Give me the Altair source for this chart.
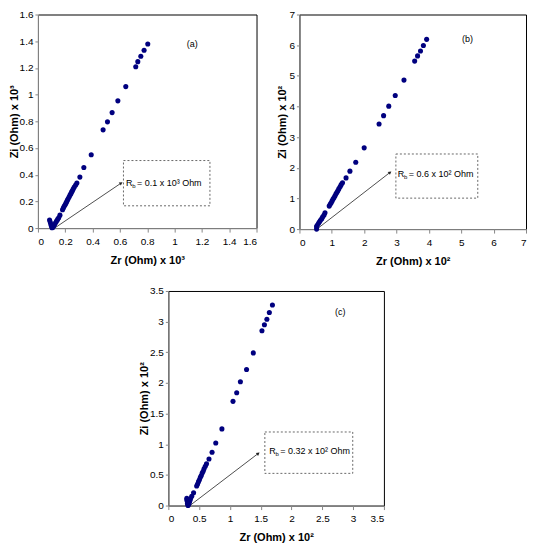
import altair as alt
import pandas as pd

NAVY = "#00007f"
FONT = "Liberation Sans"

# ---------------- data ----------------
a_zr = [0.085, 0.090, 0.094, 0.098, 0.103, 0.108, 0.114, 0.121, 0.129, 0.136, 0.144, 0.152, 0.161,
        0.180, 0.186, 0.192, 0.199, 0.205, 0.211, 0.216, 0.222, 0.229, 0.235, 0.241, 0.247, 0.253,
        0.259, 0.266, 0.276, 0.285, 0.307, 0.336, 0.390, 0.477, 0.509, 0.543, 0.585, 0.643, 0.716,
        0.731, 0.753, 0.777, 0.804]
a_zi = [0.060, 0.046, 0.031, 0.016, 0.003, 0.004, 0.013, 0.025, 0.040, 0.052, 0.065, 0.078, 0.097,
        0.138, 0.151, 0.163, 0.175, 0.187, 0.199, 0.211, 0.222, 0.235, 0.247, 0.258, 0.271, 0.282,
        0.294, 0.307, 0.322, 0.337, 0.382, 0.454, 0.549, 0.736, 0.796, 0.865, 0.953, 1.060, 1.209,
        1.247, 1.287, 1.332, 1.379]

b_zr = [0.53, 0.53, 0.55, 0.59, 0.62, 0.65, 0.69, 0.72, 0.76, 0.79, 0.92, 0.95, 0.98, 1.01, 1.04,
        1.07, 1.10, 1.13, 1.16, 1.19, 1.22, 1.26, 1.29, 1.33, 1.44, 1.56, 1.74, 2.00, 2.46, 2.60,
        2.76, 2.96, 3.23, 3.56, 3.65, 3.74, 3.83, 3.93]
b_zi = [0.00, 0.08, 0.12, 0.19, 0.24, 0.29, 0.34, 0.40, 0.46, 0.53, 0.75, 0.81, 0.86, 0.92, 0.98,
        1.03, 1.09, 1.15, 1.20, 1.26, 1.32, 1.39, 1.45, 1.51, 1.67, 1.89, 2.18, 2.65, 3.43, 3.70,
        4.01, 4.36, 4.86, 5.48, 5.65, 5.81, 5.99, 6.19]

c_zr = [0.30, 0.30, 0.31, 0.31, 0.32, 0.33, 0.34, 0.35, 0.36, 0.38, 0.41, 0.46, 0.475, 0.49, 0.505,
        0.52, 0.535, 0.55, 0.565, 0.58, 0.60, 0.62, 0.66, 0.71, 0.77, 0.87, 1.05, 1.11, 1.17, 1.27,
        1.38, 1.52, 1.56, 1.60, 1.64, 1.69]
c_zi = [0.12, 0.09, 0.06, 0.03, 0.00, 0.02, 0.05, 0.08, 0.11, 0.15, 0.21, 0.32, 0.35, 0.39, 0.42,
        0.46, 0.49, 0.53, 0.56, 0.60, 0.64, 0.68, 0.76, 0.87, 1.02, 1.25, 1.70, 1.84, 2.02, 2.22,
        2.49, 2.85, 2.95, 3.04, 3.15, 3.27]

a_ticks = [0, 0.2, 0.4, 0.6, 0.8, 1, 1.2, 1.4, 1.6]
b_ticks = [0, 1, 2, 3, 4, 5, 6, 7]
c_ticks = [0, 0.5, 1, 1.5, 2, 2.5, 3, 3.5]

labels = ["(a)", "(b)", "(c)"]
label_x = [1.13, 5.19, 2.79]
label_y = [1.376, 6.19, 3.15]

rb_values = ["= 0.1 x 10³ Ohm", "= 0.6 x 10² Ohm", "= 0.32 x 10² Ohm"]
box_x1 = [0.626, 2.98, 1.567]
box_x2 = [1.259, 5.51, 2.994]
box_y1 = [0.167, 1.01, 0.525]
box_y2 = [0.506, 2.45, 1.20]
text_x = [0.645, 3.04, 1.64]
text_y = [0.337, 1.80, 0.89]
arrow_x1 = [0.122, 0.54, 0.35]
arrow_y1 = [0.0, 0.0, 0.0]
arrow_x2 = [0.609, 2.80, 1.46]
arrow_y2 = [0.337, 1.85, 0.85]
arrow_angle = [56, 52, 53]

x_titles = ["Zr (Ohm) x 10³", "Zr (Ohm) x 10²", "Zr (Ohm) x 10²"]
y_titles = ["Zi (Ohm) x 10³", "Zi (Ohm) x 10²", "Zi (Ohm) x 10²"]
y_title_x = [-18, -12, -19]
right_pad = [0, 0, 10]   # extra invisible room to the right of a panel (layout only)


def panel(i, zr, zi, ticks, w, h):
    lo, hi = ticks[0], ticks[-1]
    xs = alt.Scale(domain=[lo, hi], nice=False, zero=False)
    ys = alt.Scale(domain=[lo, hi], nice=False, zero=False)
    xax = alt.Axis(values=ticks, format="~g", title=x_titles[i], tickSize=4, grid=False,
                   labelOverlap=False, labelPadding=4, titlePadding=8)
    yax = alt.Axis(values=ticks, format="~g", title=y_titles[i], tickSize=3, grid=False,
                   labelOverlap=False, labelPadding=2, titleX=y_title_x[i], titleY=h / 2,
                   titleBaseline="bottom", titleAlign="center", titleAngle=270)

    def X(f):
        return alt.X(f, type="quantitative", scale=xs, axis=xax)

    def Y(f):
        return alt.Y(f, type="quantitative", scale=ys, axis=yax)

    df = pd.DataFrame({"zr": zr, "zi": zi})
    pts = alt.Chart(df).mark_circle(size=26, color=NAVY, opacity=1).encode(x=X("zr"), y=Y("zi"))
    box_df = pd.DataFrame({"x1": [box_x1[i]], "x2": [box_x2[i]], "y1": [box_y1[i]], "y2": [box_y2[i]]})
    box = alt.Chart(box_df).mark_rect(fill="white", stroke="#444444", strokeWidth=0.8,
                                      strokeDash=[2, 2]).encode(
        x=X("x1"), x2="x2:Q", y=Y("y1"), y2="y2:Q")
    arr_df = pd.DataFrame({"x1": [arrow_x1[i]], "x2": [arrow_x2[i]],
                           "y1": [arrow_y1[i]], "y2": [arrow_y2[i]]})
    rule = alt.Chart(arr_df).mark_rule(color="#222222", strokeWidth=0.8).encode(
        x=X("x1"), x2="x2:Q", y=Y("y1"), y2="y2:Q")
    head = alt.Chart(arr_df).mark_point(shape="triangle-up", filled=True, color="#222222",
                                        size=14, angle=arrow_angle[i], opacity=1).encode(
        x=X("x2"), y=Y("y2"))
    t_df = pd.DataFrame({"x": [text_x[i]], "y": [text_y[i]], "r": ["R"], "b": ["b"],
                         "v": [rb_values[i]]})
    tr = alt.Chart(t_df).mark_text(align="left", baseline="middle", font=FONT, fontSize=9,
                                   color="black").encode(x=X("x"), y=Y("y"), text="r:N")
    tb = alt.Chart(t_df).mark_text(align="left", baseline="middle", font=FONT, fontSize=6,
                                   dx=6.2, dy=3, color="black").encode(x=X("x"), y=Y("y"), text="b:N")
    tv = alt.Chart(t_df).mark_text(align="left", baseline="middle", font=FONT, fontSize=9,
                                   dx=11, color="black").encode(x=X("x"), y=Y("y"), text="v:N")
    l_df = pd.DataFrame({"x": [label_x[i]], "y": [label_y[i]], "t": [labels[i]]})
    lab = alt.Chart(l_df).mark_text(align="center", baseline="middle", font=FONT, fontSize=9,
                                    color="black").encode(x=X("x"), y=Y("y"), text="t:N")
    layers = [rule, head, box, tr, tb, tv, lab, pts]
    if right_pad[i]:
        s_df = pd.DataFrame({"x": [hi], "y": [lo], "t": ["."]})
        layers.append(alt.Chart(s_df).mark_text(align="left", dx=right_pad[i], opacity=0,
                                                fontSize=8).encode(x=X("x"), y=Y("y"), text="t:N"))
    return alt.layer(*layers).properties(
        width=w, height=h, view=alt.ViewBackground(stroke="black", strokeWidth=1))


pa = panel(0, a_zr, a_zi, a_ticks, 219, 214)
pb = panel(1, b_zr, b_zi, b_ticks, 227, 215)
pc = panel(2, c_zr, c_zi, c_ticks, 216, 215)

top = alt.hconcat(pa, pb, spacing=18)
chart = alt.vconcat(top, pc, spacing=18, center=True, padding=0).configure_axis(
    grid=False, domainColor="black", tickColor="black", labelColor="black", titleColor="black",
    labelFont=FONT, titleFont=FONT, labelFontSize=8, titleFontSize=8, titleFontWeight="bold",
    domainWidth=1, tickWidth=1,
).configure_view(stroke="black", strokeWidth=1).configure(background="white")

chart.save("out.html", embed_options={"renderer": "svg", "actions": False})
